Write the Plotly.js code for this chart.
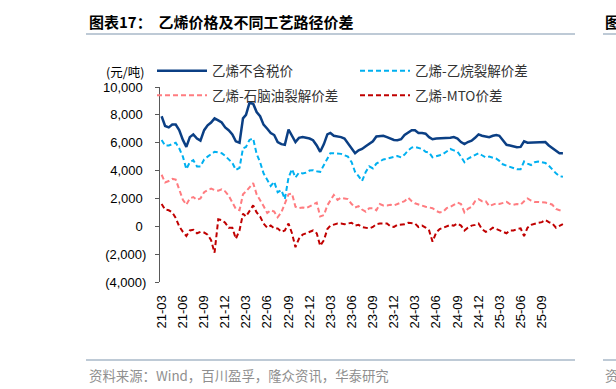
<!DOCTYPE html>
<html><head><meta charset="utf-8">
<script src="https://cdn.plot.ly/plotly-3.0.1.min.js"></script>
<style>html,body{margin:0;padding:0;background:#fff}</style>
</head><body><div id="chart" style="width:616px;height:389px"></div>
<script>
const dates = [
"2021-03-01","2021-03-16","2021-04-01","2021-04-16","2021-05-01","2021-05-16","2021-06-01","2021-06-16","2021-07-01","2021-07-16","2021-08-01","2021-08-16","2021-09-01","2021-09-16","2021-10-01","2021-10-16","2021-11-01","2021-11-16","2021-12-01","2021-12-16",
"2022-01-01","2022-01-16","2022-02-01","2022-02-16","2022-03-01","2022-03-16","2022-04-01","2022-04-16","2022-05-01","2022-05-16","2022-06-01","2022-06-16","2022-07-01","2022-07-16","2022-08-01","2022-08-16","2022-09-01","2022-09-16","2022-10-01","2022-10-16","2022-11-01","2022-11-16","2022-12-01","2022-12-16",
"2023-01-01","2023-01-16","2023-02-01","2023-02-16","2023-03-01","2023-03-16","2023-04-01","2023-04-16","2023-05-01","2023-05-16","2023-06-01","2023-06-16","2023-07-01","2023-07-16","2023-08-01","2023-08-16","2023-09-01","2023-09-16","2023-10-01","2023-10-16","2023-11-01","2023-11-16","2023-12-01","2023-12-16",
"2024-01-01","2024-01-16","2024-02-01","2024-02-16","2024-03-01","2024-03-16","2024-04-01","2024-04-16","2024-05-01","2024-05-16","2024-06-01","2024-06-16","2024-07-01","2024-07-16","2024-08-01","2024-08-16","2024-09-01","2024-09-16","2024-10-01","2024-10-16","2024-11-01","2024-11-16","2024-12-01","2024-12-16",
"2025-01-01","2025-01-16","2025-02-01","2025-02-16","2025-03-01","2025-03-16","2025-04-01","2025-04-16","2025-05-01","2025-05-16","2025-06-01","2025-06-16","2025-07-01","2025-07-16","2025-08-01","2025-08-16","2025-09-01","2025-09-16","2025-10-01","2025-10-16","2025-11-01","2025-11-16","2025-12-01"
];

const ethylenePrice = [
7900,7200,7100,7300,7300,6900,6200,5700,6400,6600,6300,6150,6900,7250,7450,7750,7600,7450,7100,6900,
6600,6100,6000,7750,8000,8850,8800,8200,7900,7300,7000,6700,6550,6050,5900,5850,6950,6450,6050,6350,6400,6350,6300,6180,
5800,5350,5900,6600,6700,6500,6450,6400,6300,5950,5600,5250,5450,5550,5750,5950,6100,6450,6500,6500,6400,6300,6200,6180,
6250,6550,6700,6900,6900,6700,6700,6650,6400,6250,6300,6300,6300,6300,6350,6400,6300,6050,5900,6050,6150,6350,6600,6500,
6450,6400,6500,6550,6500,6200,5850,5800,5750,5680,5700,6100,6000,6000,6000,6050,6050,6050,5800,5600,5450,5250,5250
];

const ethaneSpread = [
6200,5800,5800,5900,6000,5600,5000,4100,4600,4750,4300,4300,4800,5000,5150,5350,5300,5250,5050,4800,
4550,4050,4200,5600,5700,6200,6300,5200,4600,3800,3300,2900,3200,2450,2600,1950,3500,4100,3500,3850,3800,3850,4000,4030,
3950,3900,4400,4900,5250,5250,5250,5200,5100,5000,4600,3900,3600,3250,3900,4300,4150,4500,4650,4800,4850,4900,5000,5050,
4950,5150,5450,5650,5700,5600,5550,5350,5300,4950,5000,5100,5200,5350,5550,5450,5350,5000,4600,4850,5000,5150,5250,5100,
4950,5000,4900,4850,4700,4450,4350,4250,4200,4100,4100,4650,4500,4400,4600,4650,4600,4550,4350,4050,3800,3600,3550
];

const naphthaSpread = [
3700,3150,3250,3400,3350,2700,1900,1550,2000,2100,1900,2000,2450,2600,2700,2600,2550,2650,2500,2200,
1750,1250,1150,2300,2500,2800,3100,2300,1900,1450,950,1150,1050,650,1000,1600,2300,2350,1400,1300,1350,1300,1450,1600,
1700,700,800,1500,1900,2250,1900,2050,2000,1950,1600,1350,1450,1200,1050,1300,1300,1150,1600,1500,1500,1550,1500,1600,
1650,1800,2050,1800,1650,1550,1500,1400,1350,1300,1100,1000,1050,1300,1400,1550,1700,1600,1000,1250,1400,1800,1950,1800,
1800,1450,1550,1650,1600,1700,1750,1600,1550,1600,1550,1800,2000,1850,1750,1750,1750,1700,1650,1550,1250,1150,1150
];

const mtoSpread = [
1600,1200,1150,1000,600,0,-400,-700,-300,-250,-500,-400,-450,-600,-1000,-1900,500,450,250,-100,
-100,-900,-300,900,700,1050,1500,1000,700,200,-100,50,-150,-150,-400,-300,200,-500,-1500,-900,-600,-500,-400,-300,
-500,-1400,-1000,-200,50,150,200,200,150,200,250,50,100,-50,-100,-150,-50,150,200,200,200,0,-50,100,
100,150,250,200,200,-50,50,-100,-300,-1100,-450,-200,-100,-50,100,50,200,50,-300,-100,50,100,200,-200,
-400,-300,-100,-200,-300,-400,-500,-300,-300,-200,-150,-700,-100,100,200,250,300,450,300,200,-100,50,150
];

const seriesNames = ["乙烯不含税价","乙烯-乙烷裂解价差","乙烯-石脑油裂解价差","乙烯-MTO价差"];
const seriesColors = ["#0B3F84","#00B0F0","#FF7C80","#C00000"];

const yTickVals = [-4000,-2000,0,2000,4000,6000,8000,10000];
const yTickText = ["(4,000)","(2,000)","0\u00a0","2,000\u00a0","4,000\u00a0","6,000\u00a0","8,000\u00a0","10,000\u00a0"];

const xTickVals = ["2021-03-01","2021-06-01","2021-09-01","2021-12-01","2022-03-01","2022-06-01","2022-09-01","2022-12-01","2023-03-01","2023-06-01","2023-09-01","2023-12-01","2024-03-01","2024-06-01","2024-09-01","2024-12-01","2025-03-01","2025-06-01","2025-09-01"];
const xTickText = ["21-03","21-06","21-09","21-12","22-03","22-06","22-09","22-12","23-03","23-06","23-09","23-12","24-03","24-06","24-09","24-12","25-03","25-06","25-09"];

const titleText = "<b>图表17：  乙烯价格及不同工艺路径价差</b>";
const unitText = "(元/吨)";
const sourceText = "资料来源：Wind，百川盈孚，隆众资讯，华泰研究";

// layout geometry (pixels)
const W = 616, H = 389, L = 160, R = 51, T = 87, B = 107;
const PW = W - L - R, PH = H - T - B;
const px = x => (x - L) / PW;
const py = y => (H - B - y) / PH;

const cjk = '"Noto Sans CJK SC", "Noto Sans", sans-serif';
const arial = '"Liberation Sans", Arial, sans-serif';

// legend column for each series: left column / right column
const legendOf = ["legend", "legend2", "legend", "legend2"];

const seriesData = [ethylenePrice, ethaneSpread, naphthaSpread, mtoSpread];
const traces = seriesData.map((ys, i) => ({
  type: "scatter",
  mode: "lines",
  x: dates,
  y: ys,
  name: seriesNames[i],
  legend: legendOf[i],
  legendgroup: "g" + i,
  line: {color: seriesColors[i], width: i === 0 ? 2.5 : 2, dash: i === 0 ? "solid" : "5px,3px"},
  hoverinfo: "skip"
}));

const xRange = ["2021-02-22", "2025-12-10"];

const legendCommon = {
  orientation: "v",
  xanchor: "left",
  yanchor: "middle",
  itemwidth: 50,
  tracegroupgap: 4,
  bgcolor: "rgba(0,0,0,0)",
  borderwidth: 0,
  font: {family: cjk, size: 13.5, color: "#333"}
};

const layout = {
  width: W, height: H,
  margin: {l: L, r: R, t: T, b: B, pad: 0},
  paper_bgcolor: "#fff",
  plot_bgcolor: "rgba(0,0,0,0)",
  showlegend: true,
  legend: Object.assign({}, legendCommon, {x: px(152), y: py(83.5)}),
  legend2: Object.assign({}, legendCommon, {x: px(355), y: py(83.5)}),
  xaxis: {
    type: "date",
    range: xRange,
    tickvals: xTickVals,
    ticktext: xTickText,
    tickangle: -90,
    tickfont: {family: arial, size: 13, color: "#000"},
    ticks: "outside", ticklen: 7, tickcolor: "rgba(0,0,0,0)",
    showline: false, showgrid: false, zeroline: false,
    fixedrange: true
  },
  xaxis2: {
    type: "date",
    overlaying: "x",
    range: xRange,
    anchor: "free",
    position: 4000 / 14000,
    tickvals: xTickVals,
    showticklabels: false,
    ticks: "outside", ticklen: 3, tickcolor: "#8c8c8c", tickwidth: 1,
    showline: true, linecolor: "#8c8c8c", linewidth: 1,
    showgrid: false, zeroline: false
  },
  yaxis: {
    range: [-4000, 10000],
    tickvals: yTickVals,
    ticktext: yTickText,
    tickfont: {family: arial, size: 13, color: "#000"},
    ticks: "outside", ticklen: 4, tickcolor: "#595959", tickwidth: 1,
    ticklabelstandoff: 6,
    showline: true, linecolor: "#595959", linewidth: 1,
    showgrid: false, zeroline: false,
    fixedrange: true
  },
  shapes: [
    {type: "line", xref: "paper", yref: "paper", x0: px(86), x1: px(575), y0: py(34), y1: py(34), line: {color: "#A9B9C9", width: 1.5}},
    {type: "line", xref: "paper", yref: "paper", x0: px(603), x1: px(620), y0: py(34), y1: py(34), line: {color: "#A9B9C9", width: 1.5}},
    {type: "line", xref: "paper", yref: "paper", x0: px(86), x1: px(575), y0: py(360), y1: py(360), line: {color: "#A9B9C9", width: 1.5}},
    {type: "line", xref: "paper", yref: "paper", x0: px(603), x1: px(620), y0: py(360), y1: py(360), line: {color: "#A9B9C9", width: 1.5}}
  ],
  annotations: [
    {text: titleText, xref: "paper", yref: "paper", x: px(87), y: py(21), xanchor: "left", yanchor: "middle", showarrow: false, font: {family: cjk, size: 15, color: "#000"}},
    {text: "<b>图</b>", xref: "paper", yref: "paper", x: px(603), y: py(21), xanchor: "left", yanchor: "middle", showarrow: false, font: {family: cjk, size: 15, color: "#000"}},
    {text: unitText, xref: "paper", yref: "paper", x: px(104), y: py(71), xanchor: "left", yanchor: "middle", showarrow: false, font: {family: cjk, size: 12.5, color: "#000"}},
    {text: sourceText, xref: "paper", yref: "paper", x: px(87), y: py(375), xanchor: "left", yanchor: "middle", showarrow: false, font: {family: cjk, size: 13.4, color: "#8f8f8f"}},
    {text: "资", xref: "paper", yref: "paper", x: px(603), y: py(375), xanchor: "left", yanchor: "middle", showarrow: false, font: {family: cjk, size: 13.4, color: "#8f8f8f"}}
  ]
};

Plotly.newPlot("chart", traces, layout, {staticPlot: true, displayModeBar: false});
</script>
</body></html>
